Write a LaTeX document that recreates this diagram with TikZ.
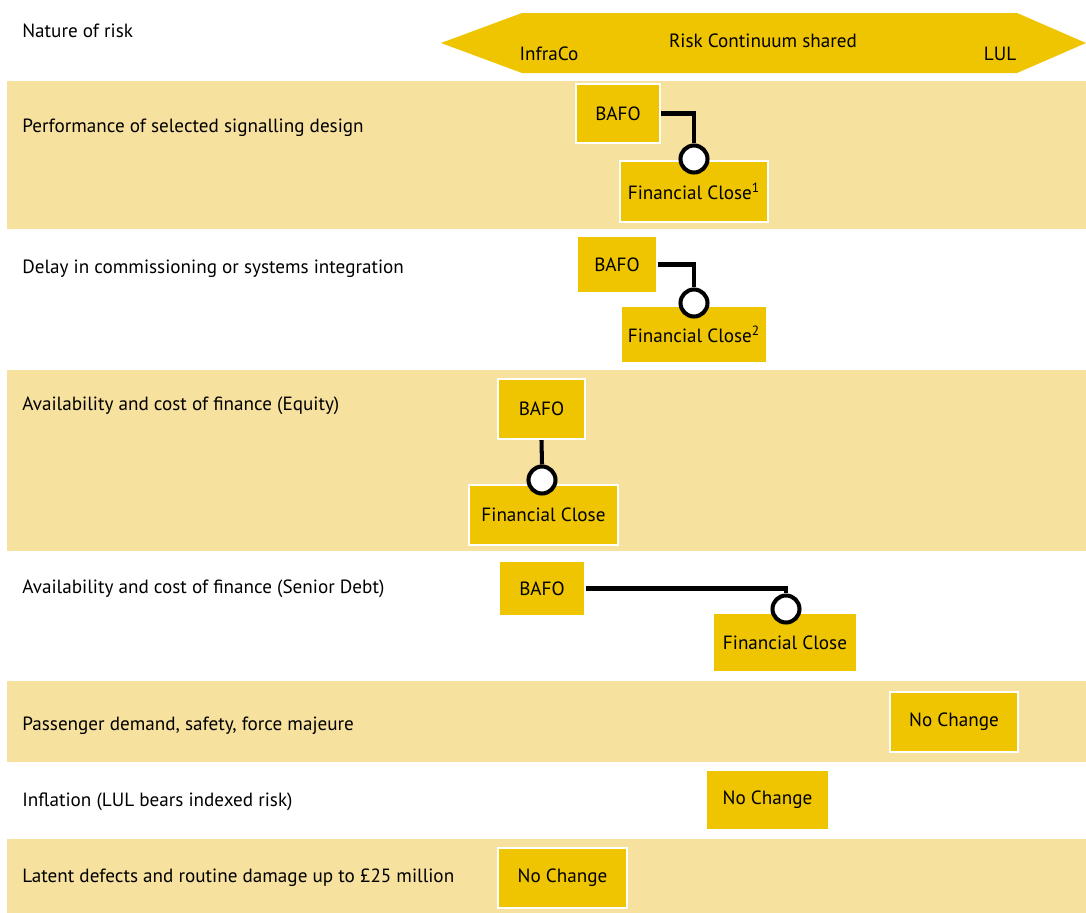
\documentclass[tikz,border=0pt]{standalone}
\usepackage{fontspec}
\setmainfont{PT Sans}
\usetikzlibrary{positioning}
\definecolor{bandtint}{HTML}{F7E19E}
\definecolor{boxgold}{HTML}{EEC500}

\begin{document}
\begin{tikzpicture}[x=0.02cm, y=-0.02cm,
    band/.style={fill=bandtint, draw=none},
    risk/.style={anchor=west, font=\fontsize{10.9}{12}\selectfont, inner sep=0},
    box/.style={fill=boxgold, draw=white, line width=1.2pt, inner sep=0,
        font=\fontsize{10.9}{12}\selectfont},
    sz/.style 2 args={minimum width=#1*0.02cm, minimum height=#2*0.02cm},
    link/.style={line width=2.3pt},
    ring/.style={circle, draw, fill=white, line width=2.3pt, minimum size=27*0.02cm, inner sep=0}
]
    \useasboundingbox (0,0) rectangle (1086,913);
    % shaded bands
    \fill[band] (7,81) rectangle (1086,229);
    \fill[band] (7,370) rectangle (1086,551);
    \fill[band] (7,681) rectangle (1086,762);
    \fill[band] (7,839) rectangle (1086,913);

    % header arrow
    \fill[boxgold] (441,43) -- (522,13) -- (1017,13) -- (1086,43) -- (1017,73) -- (522,73) -- cycle;
    \node[font=\fontsize{10.9}{12}\selectfont] (infraco) at (549,54) {InfraCo};
    \node[font=\fontsize{10.9}{12}\selectfont] (shared) at (763,41) {Risk Continuum shared};
    \node[font=\fontsize{10.9}{12}\selectfont] (lul) at (1000,54) {LUL};

    % risk labels
    \node[risk] (natr) at (22,31) {Nature of risk};
    \node[risk] (perf) at (22,128) {Performance of selected signalling design};
    \node[risk] (dely) at (22,269) {Delay in commissioning or systems integration};
    \node[risk] (equi) at (22,406) {Availability and cost of finance (Equity)};
    \node[risk] (debt) at (22,589) {Availability and cost of finance (Senior Debt)};
    \node[risk] (pass) at (22,726) {Passenger demand, safety, force majeure};
    \node[risk] (infl) at (22,802) {Inflation (LUL bears indexed risk)};
    \node[risk] (latn) at (22,878) {Latent defects and routine damage up to \pounds25 million};

    % row 1
    \node[box, sz={84}{59}] (bafoA) at (618,113.5) {BAFO};
    \node[box, sz={148}{61}] (closeA) at (694,191.5) {Financial Close\textsuperscript{1}};
    \node[ring] (ringA) at (694,159) {};
    \draw[link] (bafoA.east) -| (ringA.north);

    % row 2
    \node[box, sz={80}{57}] (bafoB) at (617,264.5) {BAFO};
    \node[box, sz={146}{57}] (closeB) at (694,334.5) {Financial Close\textsuperscript{2}};
    \node[ring] (ringB) at (694,303) {};
    \draw[link] (bafoB.east) -| (ringB.north);

    % row 3
    \node[box, sz={87}{60}] (bafoC) at (541.5,409) {BAFO};
    \node[box, sz={149}{60}] (closeC) at (543.5,515) {Financial Close};
    \node[ring] (ringC) at (542,480) {};
    \draw[link] (bafoC.south) -- (ringC.north);

    % row 4
    \node[box, sz={86}{55}] (bafoD) at (542,588.5) {BAFO};
    \node[box, sz={144}{59}] (closeD) at (785,642.5) {Financial Close};
    \node[ring] (ringD) at (786,609) {};
    \draw[link] (bafoD.east) -| (ringD.north);

    % no change rows
    \node[box, sz={128}{60}] (sameE) at (954,722) {No Change};
    \node[box, sz={123}{60}] (sameF) at (767.5,800) {No Change};
    \node[box, sz={129}{60}] (sameG) at (562.5,878) {No Change};
\end{tikzpicture}
\end{document}
